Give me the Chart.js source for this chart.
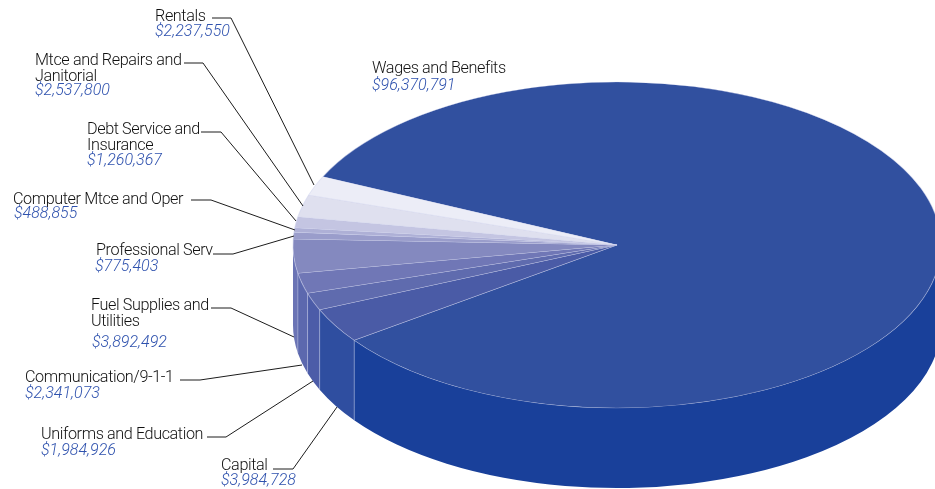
<!DOCTYPE html>
<html>
<head>
<meta charset="utf-8">
<title>Expenditures</title>
<script src="https://cdn.jsdelivr.net/npm/chart.js@4/dist/chart.umd.min.js"></script>
<style>
    html, body { margin: 0; padding: 0; background: #fff; overflow: hidden; }
    canvas { display: block; }
</style>
</head>
<body>
<canvas id="myChart" width="935" height="489"></canvas>
<script>
const categories = [
    'Wages and Benefits', 'Capital', 'Uniforms and Education', 'Communication/9-1-1',
    'Fuel Supplies and Utilities', 'Professional Serv', 'Computer Mtce and Oper',
    'Debt Service and Insurance', 'Mtce and Repairs and Janitorial', 'Rentals'
];
const amounts = [96370791, 3984728, 1984926, 2341073, 3892492, 775403, 488855, 1260367, 2537800, 2237550];

const topColors = ['#31509f', '#4a5ba6', '#5f6bae', '#7077b6', '#8489bf', '#9a9dcb', '#aeb0d6', '#c4c5e2', '#dfe0ef', '#ecedf7'];
const sideColors = ['#19409a', '#2f4ea0', '#4c5ca8', '#5c68ae', '#6b74b5', '#8489bf', '#9a9dcb', '#aeb0d6', '#c4c5e2', '#dfe0ef'];

// where each label sits: wrapped name, text position, value baseline, leader path
const labelLayout = [
    { lines: ['Wages and Benefits'], x: 372, y: 73, valueX: 372, valueY: 90, leader: null },
    { lines: ['Capital'], x: 221, y: 470, valueX: 221, valueY: 485, leader: [[273, 469], [293, 469], [337, 407]] },
    { lines: ['Uniforms and Education'], x: 41, y: 439, valueX: 41, valueY: 455, leader: [[207, 437], [226, 437], [313, 381]] },
    { lines: ['Communication/9-1-1'], x: 25, y: 382, valueX: 25, valueY: 398, leader: [[180, 380], [200, 380], [302, 365]] },
    { lines: ['Fuel Supplies and', 'Utilities'], x: 91, y: 310, valueX: 92, valueY: 347, leader: [[211, 308], [231, 308], [294, 337]] },
    { lines: ['Professional Serv'], x: 96, y: 255, valueX: 95, valueY: 271, leader: [[213, 254], [233, 254], [294, 236]] },
    { lines: ['Computer Mtce and Oper'], x: 13, y: 204, valueX: 14, valueY: 218, leader: [[191, 200], [211, 200], [295, 230]] },
    { lines: ['Debt Service and', 'Insurance'], x: 87, y: 134, valueX: 87, valueY: 165, leader: [[201, 132], [221, 132], [296, 221]] },
    { lines: ['Mtce and Repairs and', 'Janitorial'], x: 35, y: 65, valueX: 35, valueY: 95, leader: [[184, 63], [203, 63], [303, 206]] },
    { lines: ['Rentals'], x: 155, y: 21, valueX: 155, valueY: 36, leader: [[212, 18], [231, 18], [314, 185]] }
];

const pie = { x: 617, y: 245, rx: 324, ry: 163, depth: 80 };
const seamColor = 'rgba(205, 210, 238, 0.5)';

function money(v) {
    return '$' + v.toLocaleString('en-US');
}

// the wall under the front half of the ellipse, one piece per slice
function drawSides(ctx, arcs) {
    arcs.forEach((arc, i) => {
        for (let k = 0; k < 3; k++) {
            const a = Math.max(arc.startAngle, k * 2 * Math.PI);
            const b = Math.min(arc.endAngle, k * 2 * Math.PI + Math.PI);
            if (b <= a) continue;
            ctx.beginPath();
            ctx.ellipse(pie.x, pie.y, pie.rx, pie.ry, 0, a, b);
            ctx.ellipse(pie.x, pie.y + pie.depth, pie.rx, pie.ry, 0, b, a, true);
            ctx.closePath();
            ctx.fillStyle = sideColors[i];
            ctx.fill();
            if (arc.startAngle >= k * 2 * Math.PI) {
                const sx = pie.x + pie.rx * Math.cos(a);
                const sy = pie.y + pie.ry * Math.sin(a);
                ctx.beginPath();
                ctx.moveTo(sx, sy);
                ctx.lineTo(sx, sy + pie.depth);
                ctx.strokeStyle = seamColor;
                ctx.lineWidth = 0.8;
                ctx.stroke();
            }
        }
    });
}

const pie3d = {
    id: 'pie3d',
    beforeDatasetsDraw(chart) {
        const ctx = chart.ctx;
        const arcs = chart.getDatasetMeta(0).data;
        drawSides(ctx, arcs);
        // squash the library's circular slices into the top ellipse
        ctx.save();
        ctx.translate(pie.x, pie.y);
        ctx.scale(pie.rx / arcs[0].outerRadius, pie.ry / arcs[0].outerRadius);
        ctx.translate(-arcs[0].x, -arcs[0].y);
    },
    afterDatasetsDraw(chart) {
        const ctx = chart.ctx;
        ctx.restore();
        drawLabels(ctx);
    }
};

function drawLabels(ctx) {
    ctx.textBaseline = 'alphabetic';
    ctx.textAlign = 'left';
    labelLayout.forEach((item, i) => {
        if (item.leader) {
            ctx.beginPath();
            item.leader.forEach((p, j) => j ? ctx.lineTo(p[0], p[1]) : ctx.moveTo(p[0], p[1]));
            ctx.strokeStyle = '#1c1c1c';
            ctx.lineWidth = 1;
            ctx.stroke();
        }
        ctx.font = '300 16.2px Roboto';
        ctx.letterSpacing = '-0.4px';
        ctx.fillStyle = '#111111';
        item.lines.forEach((line, j) => ctx.fillText(line, item.x, item.y + j * 16));
        ctx.font = 'italic 300 16px Roboto';
        ctx.letterSpacing = '0px';
        ctx.fillStyle = '#2f52ae';
        ctx.fillText(money(amounts[i]), item.valueX, item.valueY);
    });
}

new Chart(document.getElementById('myChart').getContext('2d'), {
    type: 'pie',
    data: {
        labels: categories,
        datasets: [{
            data: amounts,
            backgroundColor: topColors,
            borderColor: seamColor,
            borderWidth: 0.8,
            clip: false
        }]
    },
    options: {
        responsive: false,
        animation: false,
        rotation: 294.8,
        layout: { padding: 0 },
        plugins: {
            legend: { display: false },
            tooltip: { enabled: false }
        }
    },
    plugins: [pie3d]
});
</script>
</body>
</html>
